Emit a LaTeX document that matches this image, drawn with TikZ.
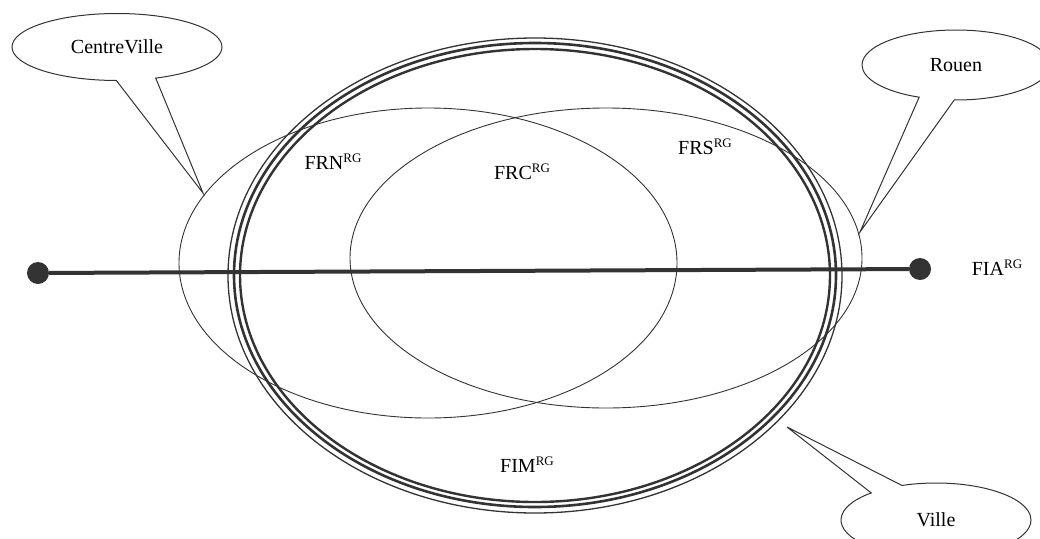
\documentclass[tikz,border=0pt]{standalone}
\usepackage{fontspec}
\setmainfont{Liberation Serif}
\usetikzlibrary{shapes.callouts}
\newcommand{\rg}{\raisebox{0.75ex}{\fontsize{13}{13}\selectfont RG}}

\begin{document}
\begin{tikzpicture}[x=1pt,y=-1pt]
\tikzstyle{every node}=[font=\fontsize{20}{24}\selectfont, inner sep=1pt]
\tikzstyle{dot}=[circle, fill=black!80, minimum size=22pt, inner sep=0pt]
\tikzstyle{bubble}=[ellipse callout, draw=black!80, line width=1pt, callout pointer arc=22]
\tikzstyle{setline}=[draw=black!80, line width=0.9pt]
\useasboundingbox (0,0) rectangle (1040,538);
% big set, drawn three times
\draw [black!80, line width=1.3pt] (535,275.5) ellipse (307 and 237.5);
\draw [black!80, line width=2.6pt] (535,275) ellipse (301 and 232);
\draw [black!80, line width=2.4pt] (535,275.5) ellipse (295 and 226.5);
\draw [setline] (428,263) ellipse (249 and 155);
\draw [setline] (606,258) ellipse (256 and 150);
% the axis
\draw (38,273) node (dotL) [dot] {};
\draw (920,269) node (dotR) [dot] {};
\draw [black!80, line width=4pt] (dotL) -- (dotR);
% labels
\draw (333,162) node (frn) {FRN\rg};
\draw (522,172) node (frc) {FRC\rg};
\draw (705,147) node (frs) {FRS\rg};
\draw (997,268) node (fia) {FIA\rg};
\draw (527,465) node (fim) {FIM\rg};
% callouts
\coordinate (cvtip) at (203,193);
\coordinate (rotip) at (860,232);
\coordinate (vitip) at (787,427);
\draw (117,47) node (centreville) [bubble, minimum width=210pt, minimum height=67pt, callout absolute pointer={(cvtip)}] {CentreVille};
\draw (956,65) node (rouen) [bubble, minimum width=188pt, minimum height=70pt, callout absolute pointer={(rotip)}] {Rouen};
\draw (936,520) node (ville) [bubble, minimum width=190pt, minimum height=74pt, callout absolute pointer={(vitip)}] {Ville};
\end{tikzpicture}
\end{document}
